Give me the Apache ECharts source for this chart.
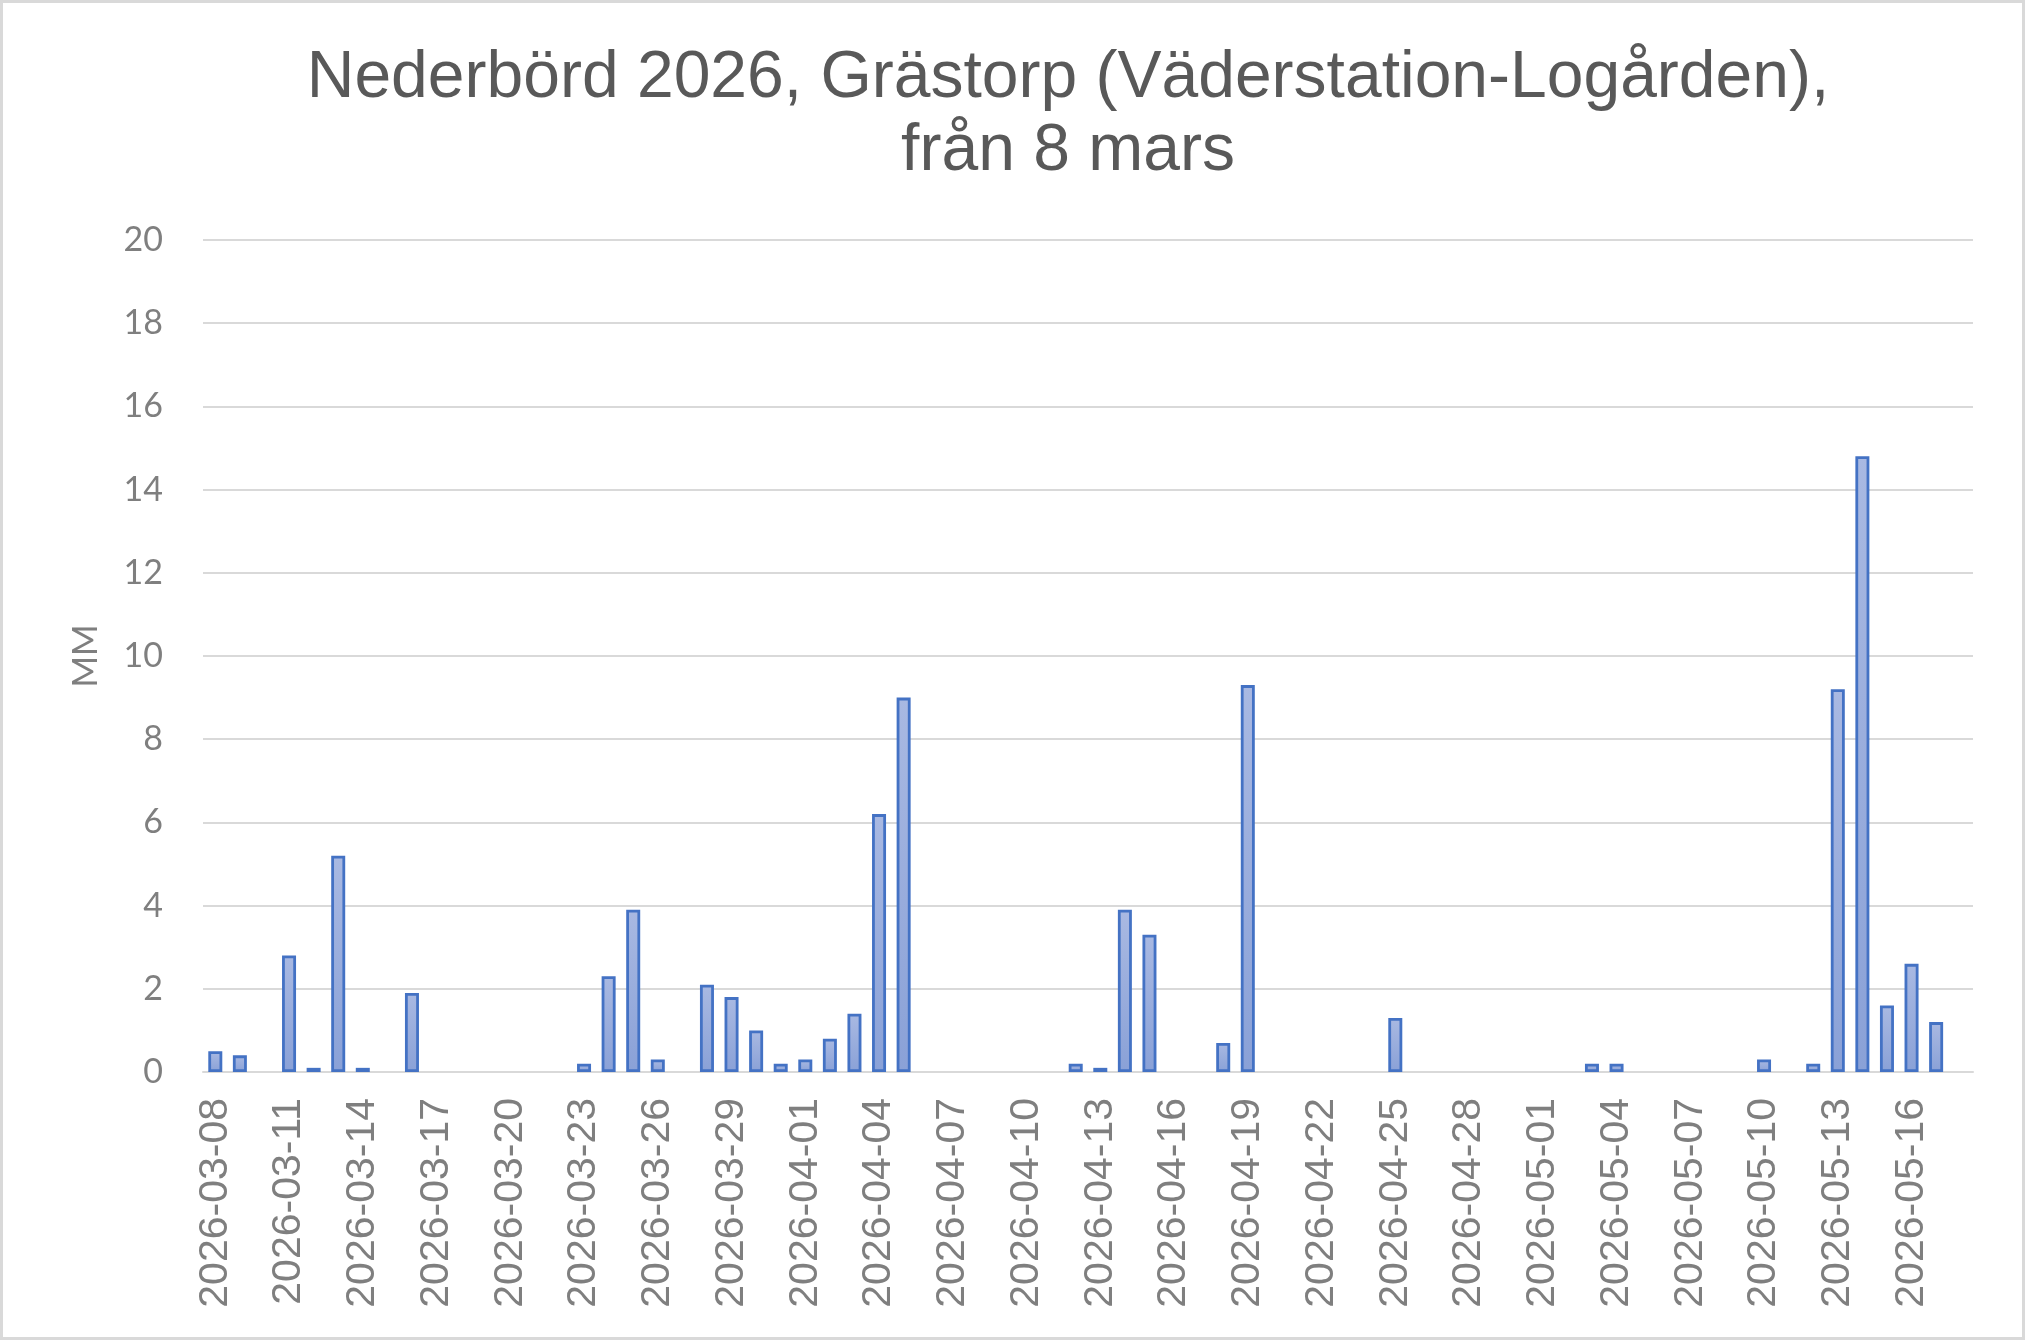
<!DOCTYPE html>
<html>
<head>
<meta charset="utf-8">
<style>
html,body{margin:0;padding:0;background:#fff;}
#c{width:2025px;height:1340px;}
</style>
<script src="https://cdn.jsdelivr.net/npm/echarts@6/dist/echarts.min.js"></script>
</head>
<body>
<div id="c"></div>
<script>
const titleText = 'Nederbörd 2026, Grästorp (Väderstation-Logården),\nfrån 8 mars';
const yAxisName = 'MM';
const dates = [
 '2026-03-08','2026-03-09','2026-03-10','2026-03-11','2026-03-12','2026-03-13','2026-03-14','2026-03-15','2026-03-16','2026-03-17',
 '2026-03-18','2026-03-19','2026-03-20','2026-03-21','2026-03-22','2026-03-23','2026-03-24','2026-03-25','2026-03-26','2026-03-27',
 '2026-03-28','2026-03-29','2026-03-30','2026-03-31','2026-04-01','2026-04-02','2026-04-03','2026-04-04','2026-04-05','2026-04-06',
 '2026-04-07','2026-04-08','2026-04-09','2026-04-10','2026-04-11','2026-04-12','2026-04-13','2026-04-14','2026-04-15','2026-04-16',
 '2026-04-17','2026-04-18','2026-04-19','2026-04-20','2026-04-21','2026-04-22','2026-04-23','2026-04-24','2026-04-25','2026-04-26',
 '2026-04-27','2026-04-28','2026-04-29','2026-04-30','2026-05-01','2026-05-02','2026-05-03','2026-05-04','2026-05-05','2026-05-06',
 '2026-05-07','2026-05-08','2026-05-09','2026-05-10','2026-05-11','2026-05-12','2026-05-13','2026-05-14','2026-05-15','2026-05-16',
 '2026-05-17','2026-05-18'
];
const rainMM = [
 0.5,0.4,0,2.8,0.1,5.2,0.1,0,1.9,0,
 0,0,0,0,0,0.2,2.3,3.9,0.3,0,
 2.1,1.8,1.0,0.2,0.3,0.8,1.4,6.2,9.0,0,
 0,0,0,0,0,0.2,0.1,3.9,3.3,0,
 0,0.7,9.3,0,0,0,0,0,1.3,0,
 0,0,0,0,0,0,0.2,0.2,0,0,
 0,0,0,0.3,0,0.2,9.2,14.8,1.6,2.6,
 1.2,0
];
const yMin = 0, yMax = 20, yStep = 2;

const barData = rainMM.map(v => v === 0 ? {value: v, itemStyle: {borderWidth: 0, opacity: 0}} : v);

const chart = echarts.init(document.getElementById('c'), null, {renderer:'canvas'});
chart.setOption({
  animation:false,
  backgroundColor:'#ffffff',
  graphic:[{
    type:'rect', silent:true, z:-1,
    shape:{x:1.5,y:1.5,width:2022,height:1337},
    style:{fill:'none',stroke:'#d9d9d9',lineWidth:3}
  }],
  title:{
    text:titleText,
    left:1063, top:37, textAlign:'center',
    textStyle:{fontFamily:'Liberation Sans',fontSize:66,fontWeight:'normal',color:'#595959',lineHeight:73}
  },
  grid:{left:203,right:52,top:240,bottom:268,containLabel:false},
  xAxis:{
    type:'category',
    data:dates,
    boundaryGap:true,
    axisLine:{show:true,lineStyle:{color:'#d9d9d9',width:2}},
    axisTick:{show:false},
    axisLabel:{interval:2,rotate:90,margin:26,color:'#7f7f7f',fontFamily:'Liberation Sans',fontSize:41}
  },
  yAxis:{
    type:'value',
    min:yMin,max:yMax,interval:yStep,
    name:yAxisName,nameLocation:'middle',nameGap:100,
    nameTextStyle:{fontFamily:'Lato',fontSize:34,color:'#7f7f7f'},
    axisLine:{show:false},axisTick:{show:false},
    axisLabel:{margin:40,color:'#7f7f7f',fontFamily:'Lato',fontSize:34},
    splitLine:{lineStyle:{color:'#d9d9d9',width:2}}
  },
  series:[{
    type:'bar',
    data:barData,
    barWidth:14,
    z:3,
    itemStyle:{
      color:new echarts.graphic.LinearGradient(0,0,0,1,[{offset:0,color:'#a9b9e2'},{offset:1,color:'#8aa1d7'}]),
      borderColor:'#4472c4',borderWidth:2.8
    }
  }]
});
</script>
</body>
</html>
